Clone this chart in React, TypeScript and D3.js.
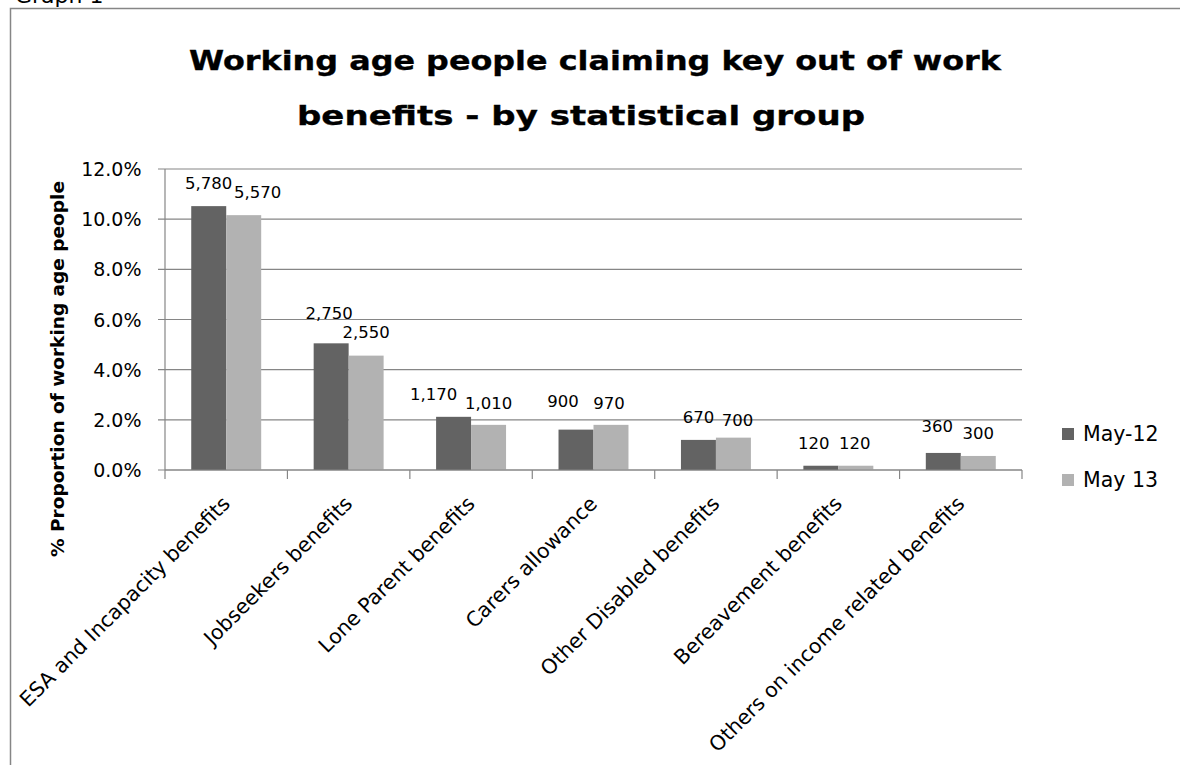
import React from "react";
import * as d3 from "d3";

const categories = [
  "ESA and Incapacity benefits",
  "Jobseekers benefits",
  "Lone Parent benefits",
  "Carers allowance",
  "Other Disabled benefits",
  "Bereavement benefits",
  "Others on income related benefits",
];
const seriesNames = ["May-12", "May 13"];
const may12Pct = [10.52, 5.05, 2.12, 1.61, 1.2, 0.17, 0.68];
const may13Pct = [10.16, 4.56, 1.8, 1.8, 1.29, 0.17, 0.56];
const may12Count = [5780, 2750, 1170, 900, 670, 120, 360];
const may13Count = [5570, 2550, 1010, 970, 700, 120, 300];
const yTicks = [0, 2, 4, 6, 8, 10, 12];

// label placement tweaks (layout only)
const nudge12 = [[0, 0], [-2, -7], [-20, 0], [-13, -6], [0, 0], [-7, 0], [-6, -4]];
const nudge13 = [[14, 0], [0, -1], [0, 1], [-2, 1], [4, 5], [-1, 0], [0, 0]];

const colors = ["#636363", "#b2b2b2"];
const grid = "#868686";
const FONT = "'DejaVu Sans', sans-serif";

export default function App() {
  const W = 1180, H = 765;
  const left = 165, right = 1022, top = 169, bottom = 470;
  const x = d3.scaleBand<string>().domain(categories).range([left, right]).paddingInner(0).paddingOuter(0);
  const inner = d3.scaleBand<string>().domain(seriesNames).range([0, x.bandwidth()]).paddingInner(0).paddingOuter(0.75);
  const y = d3.scaleLinear().domain([0, 12]).range([bottom, top]);
  const fmt = d3.format(",");
  const series = [
    { name: seriesNames[0], pct: may12Pct, cnt: may12Count, nudge: nudge12 },
    { name: seriesNames[1], pct: may13Pct, cnt: may13Count, nudge: nudge13 },
  ];
  const bw = inner.bandwidth();
  const boundaries = [...categories.map((c) => x(c)!), right];

  return (
    <svg width={W} height={H} style={{ position: "absolute", left: 0, top: 0, background: "#fff" }} fontFamily={FONT}>
      <rect x={0} y={0} width={W} height={H} fill="#fff" />
      <text x={15} y={3} fontSize={22} fill="#000">Graph 1</text>
      <path d={`M10.5,${H + 5}V8.5H${W + 5}`} fill="none" stroke={grid} strokeWidth={1.5} />

      <g fontSize={27} fontWeight="bold" fill="#000" stroke="#000" strokeWidth={0.35}>
        <text x={189} y={70} textLength={812} lengthAdjust="spacingAndGlyphs">
          Working age people claiming key out of work
        </text>
        <text x={297} y={125} textLength={568} lengthAdjust="spacingAndGlyphs">
          benefits - by statistical group
        </text>
      </g>

      {/* gridlines and y ticks */}
      {yTicks.map((t) => (
        <g key={t}>
          <line x1={left - 7} x2={right} y1={y(t)} y2={y(t)} stroke={grid} strokeWidth={1.2} />
          <text x={141.5} y={y(t) + 7} fontSize={19} textAnchor="end" fill="#000">
            {t.toFixed(1)}%
          </text>
        </g>
      ))}
      <line x1={left} x2={left} y1={top} y2={bottom} stroke={grid} strokeWidth={1.2} />
      {boundaries.map((b, i) => (
        <line key={i} x1={b} x2={b} y1={bottom} y2={bottom + 9} stroke={grid} strokeWidth={1.2} />
      ))}

      {/* bars */}
      {series.map((s, si) =>
        categories.map((c, i) => (
          <rect
            key={`${si}-${i}`}
            x={x(c)! + inner(s.name)!}
            y={y(s.pct[i])}
            width={bw}
            height={bottom - y(s.pct[i])}
            fill={colors[si]}
          />
        ))
      )}
      <line x1={left} x2={right} y1={bottom} y2={bottom} stroke={grid} strokeWidth={1.2} />

      {/* data labels */}
      {series.map((s, si) =>
        categories.map((c, i) => (
          <text
            key={`l${si}-${i}`}
            x={x(c)! + inner(s.name)! + bw / 2 + s.nudge[i][0]}
            y={y(s.pct[i]) - 17 + s.nudge[i][1]}
            fontSize={16.5}
            textAnchor="middle"
            fill="#000"
          >
            {fmt(s.cnt[i])}
          </text>
        ))
      )}

      {/* category labels */}
      {categories.map((c) => {
        const cx = x(c)! + x.bandwidth() / 2 + 5;
        return (
          <text key={c} transform={`translate(${cx},${bottom + 35}) rotate(-45)`} fontSize={20.5} textAnchor="end" fill="#000">
            {c}
          </text>
        );
      })}

      {/* y axis title */}
      <text transform="translate(63.5,369) rotate(-90)" fontSize={18.5} fontWeight="bold" textAnchor="middle" fill="#000">
        % Proportion of working age people
      </text>

      {/* legend */}
      {seriesNames.map((n, i) => (
        <g key={n} transform={`translate(1062,${428 + i * 46})`}>
          <rect x={0} y={0} width={12} height={12} fill={colors[i]} />
          <text x={21} y={12.5} fontSize={20.5} fill="#000">{n}</text>
        </g>
      ))}
    </svg>
  );
}
